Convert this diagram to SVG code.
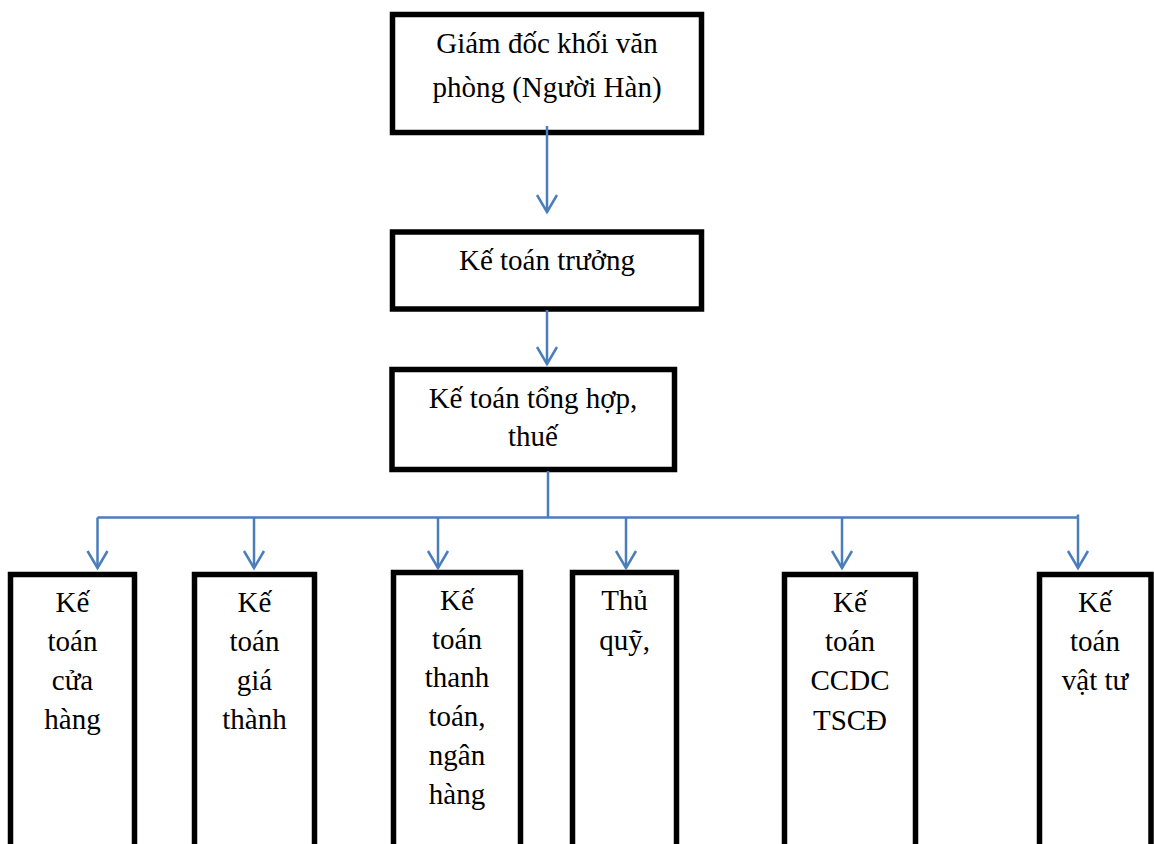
<svg xmlns="http://www.w3.org/2000/svg" width="1154" height="844" viewBox="0 0 1154 844">
<style>
.box{fill:#fff;stroke:#000;stroke-width:5.5}
.t{font-family:'Liberation Serif',Tinos,'Times New Roman','DejaVu Serif',serif;font-size:29px;fill:#000;text-anchor:middle}
.c{fill:none;stroke:#4A7EBB;stroke-width:2.5}
</style>
<defs>
<marker id="ah" markerUnits="userSpaceOnUse" markerWidth="40" markerHeight="40" refX="0" refY="0" orient="auto" overflow="visible">
<path d="M -17 -10 L 0 0 L -17 10" fill="none" stroke="#4A7EBB" stroke-width="2.5"/>
</marker>
</defs>
<rect width="1154" height="844" fill="#fff"/>
<g id="n1"><rect class="box" x="392.5" y="14.5" width="309" height="118"/>
<text class="t" x="547" y="53">Giám đốc khối văn</text>
<text class="t" x="547" y="97">phòng (Người Hàn)</text></g>
<g id="n2"><rect class="box" x="392.5" y="232" width="309" height="77"/>
<text class="t" x="547" y="270">Kế toán trưởng</text></g>
<g id="n3"><rect class="box" x="392" y="369.5" width="282.5" height="100"/>
<text class="t" x="533" y="408">Kế toán tổng hợp,</text>
<text class="t" x="533" y="446">thuế</text></g>
<g id="a"><rect class="box" x="10.5" y="574.5" width="124" height="300"/>
<text class="t" x="72.5" y="612">Kế</text><text class="t" x="72.5" y="651">toán</text><text class="t" x="72.5" y="690">cửa</text><text class="t" x="72.5" y="729">hàng</text></g>
<g id="b"><rect class="box" x="194.5" y="574.5" width="120" height="300"/>
<text class="t" x="254.5" y="612">Kế</text><text class="t" x="254.5" y="651">toán</text><text class="t" x="254.5" y="690">giá</text><text class="t" x="254.5" y="729">thành</text></g>
<g id="c"><rect class="box" x="393.5" y="572.5" width="127" height="300"/>
<text class="t" x="457" y="610">Kế</text><text class="t" x="457" y="649">toán</text><text class="t" x="457" y="687">thanh</text><text class="t" x="457" y="726">toán,</text><text class="t" x="457" y="765">ngân</text><text class="t" x="457" y="804">hàng</text></g>
<g id="d"><rect class="box" x="572.5" y="572.5" width="104" height="300"/>
<text class="t" x="624.5" y="610">Thủ</text><text class="t" x="624.5" y="650">quỹ,</text></g>
<g id="e"><rect class="box" x="784.5" y="574.5" width="131" height="300"/>
<text class="t" x="850" y="612">Kế</text><text class="t" x="850" y="651">toán</text><text class="t" x="850" y="690">CCDC</text><text class="t" x="850" y="730">TSCĐ</text></g>
<g id="f"><rect class="box" x="1039.5" y="574.5" width="111.5" height="300"/>
<text class="t" x="1095" y="612">Kế</text><text class="t" x="1095" y="651">toán</text><text class="t" x="1095" y="690">vật tư</text></g>
<g id="connectors">
<path class="c" d="M 547 126 L 547 212" marker-end="url(#ah)"/>
<path class="c" d="M 547 310 L 547 364" marker-end="url(#ah)"/>
<path class="c" d="M 548 471 L 548 517.5 M 97.5 517.5 L 1078 517.5 M 1078 514.5 L 1078 517.5"/>
<path class="c" d="M 97.5 517.5 L 97.5 568" marker-end="url(#ah)"/>
<path class="c" d="M 254 517.5 L 254 568" marker-end="url(#ah)"/>
<path class="c" d="M 438 517.5 L 438 568" marker-end="url(#ah)"/>
<path class="c" d="M 626 517.5 L 626 568" marker-end="url(#ah)"/>
<path class="c" d="M 842 517.5 L 842 568" marker-end="url(#ah)"/>
<path class="c" d="M 1078 517.5 L 1078 568" marker-end="url(#ah)"/>
</g>
</svg>
